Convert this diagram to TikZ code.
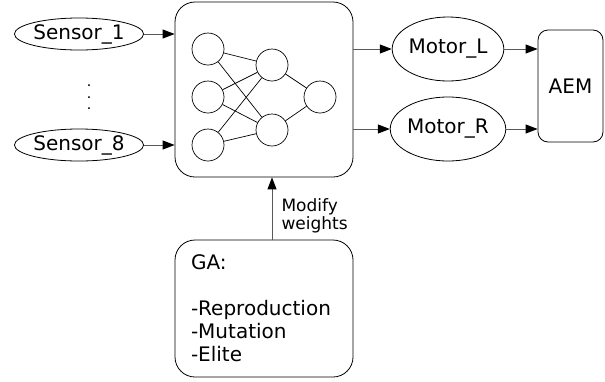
\documentclass[tikz,border=0pt]{standalone}
\usepackage{fontspec}
\setmainfont{DejaVu Sans}
\usetikzlibrary{shapes.geometric,arrows.meta,positioning}

\tikzset{
  sensor/.style={ellipse, draw, line width=0.8pt, minimum width=128pt, minimum height=32pt,
    inner sep=0pt, font=\fontsize{20}{23}\selectfont},
  motor/.style={ellipse, draw, line width=0.8pt, minimum width=97pt, minimum height=64pt,
    inner sep=0pt, font=\fontsize{20}{23}\selectfont},
  neuron/.style={circle, draw, line width=0.7pt, minimum size=32pt, inner sep=0pt},
  block/.style={draw, line width=0.8pt, rounded corners=20pt},
  link/.style={draw=black!65, line width=1pt,
    -{Triangle[length=12pt,width=9pt,color=black,fill=black]}},
  synapse/.style={line width=0.7pt}
}

\begin{document}
\begin{tikzpicture}[x=1pt,y=-1pt]
\useasboundingbox (0,0) rectangle (605,381);

% sensors
\node[sensor] (s1) at (79,34) {Sensor\_1};
\node[sensor] (s8) at (79,145) {Sensor\_8};
\foreach \y [count=\k] in {86,97.5,109}{
  \node[font=\fontsize{9}{10}\bfseries, inner sep=0pt] (dot\k) at (89,\y) {.};
}

% the network block
\node[block, minimum width=178pt, minimum height=175pt] (nn) at (264,89.5) {};
\foreach \y [count=\i] in {49,97,145}{
  \node[neuron] (in\i) at (208,\y) {};
}
\node[neuron] (h1) at (272,65) {};
\node[neuron] (h2) at (272,130) {};
\node[neuron] (out) at (320,97) {};
\foreach \i in {1,2,3}{
  \foreach \j in {1,2}{
    \draw[synapse] (in\i) -- (h\j);
  }
}
\draw[synapse] (h1) -- (out);
\draw[synapse] (h2) -- (out);

% motors and AEM
\node[motor] (ml) at (448,49) {Motor\_L};
\node[motor] (mr) at (448,129) {Motor\_R};
\node[block, rounded corners=10pt, minimum width=65pt, minimum height=112pt,
  font=\fontsize{20}{23}\selectfont] (aem) at (570.5,86) {AEM};

% GA block
\node[block, minimum width=178pt, minimum height=137pt, align=left, text width=146pt,
  inner sep=0pt, font=\fontsize{20}{23}\selectfont] (ga) at (264,308.5)
  {GA:\\[23pt]-Reproduction\\-Mutation\\-Elite};

% connectors
\draw[link] (s1.east) -- (s1.east -| nn.west);
\draw[link] (s8.east) -- (s8.east -| nn.west);
\draw[link] (nn.east |- ml.west) -- (ml.west);
\draw[link] (nn.east |- mr.west) -- (mr.west);
\draw[link] (ml.east) -- (ml.east -| aem.west);
\draw[link] (mr.east) -- (mr.east -| aem.west);
\draw[link] (ga.north -| h2) -- (nn.south -| h2)
  node[pos=0.38, anchor=west, align=left, inner sep=0pt, xshift=9pt, text=black,
    font=\fontsize{17}{18}\selectfont] (lbl) {Modify\\weights};

\end{tikzpicture}
\end{document}
